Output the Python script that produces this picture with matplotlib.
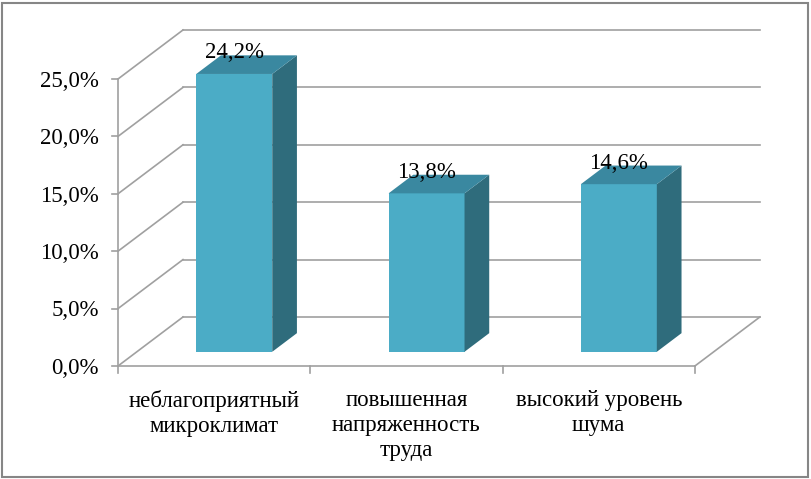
import matplotlib
matplotlib.use("Agg")
import matplotlib.pyplot as plt
from matplotlib.patches import Polygon, Rectangle

# данные
categories = ["неблагоприятный\nмикроклимат", "повышенная\nнапряженность\nтруда", "высокий уровень\nшума"]
values = [24.2, 13.8, 14.6]
value_labels = ["24,2%", "13,8%", "14,6%"]
ticks = [0, 5, 10, 15, 20, 25]
tick_labels = ["0,0%", "5,0%", "10,0%", "15,0%", "20,0%", "25,0%"]

plt.rcParams['font.family'] = ['Liberation Serif', 'DejaVu Serif']
FS = 16.5

# псевдо-3D параметры (в единицах осей)
DX, DY = 0.338, 4.27          # полная глубина
F0, F1 = 0.29, 0.67           # передняя и задняя грань столбика
BL, BR = 0.309, 0.704         # положение столбика внутри категории
GRID = '#a0a0a0'
FRONT = '#4bacc6'
TOP = '#3a88a0'
SIDE = '#2f6c7c'

fig = plt.figure(figsize=(8.11, 4.79), dpi=100)
ax = fig.add_axes([0, 0, 1, 1])
ax.set_xlim(-118 / 192.3, (811 - 118) / 192.3)
ax.set_ylim(-(479 - 366) / 11.48, 366 / 11.48)
ax.axis('off')

n = len(categories)

# стенки и сетка
for v in ticks:
    ax.plot([DX, n + DX], [v + DY, v + DY], color=GRID, lw=1.2, zorder=1)
    ax.plot([0, DX], [v, v + DY], color=GRID, lw=1.2, zorder=1)
    ax.plot([-0.03, 0], [v, v], color=GRID, lw=1.2, zorder=1)
    ax.text(-0.1, v - 0.2, tick_labels[v // 5], ha='right', va='center', fontsize=FS)
ax.plot([0, 0], [0, ticks[-1]], color=GRID, lw=1.2, zorder=1)
ax.plot([0, n], [0, 0], color=GRID, lw=1.2, zorder=1)
ax.plot([n, n + DX], [0, DY], color=GRID, lw=1.2, zorder=1)
for i in range(n + 1):
    ax.plot([i, i], [0, -0.6], color=GRID, lw=1.2, zorder=1)

# столбики
ddx, ddy = (F1 - F0) * DX, (F1 - F0) * DY
for i, v in enumerate(values):
    x0 = i + BL + F0 * DX
    x1 = i + BR + F0 * DX
    y0 = F0 * DY
    y1 = v + F0 * DY
    ax.add_patch(Polygon([(x0, y0), (x1, y0), (x1, y1), (x0, y1)], closed=True, fc=FRONT, ec='none', zorder=4))
    ax.add_patch(Polygon([(x1, y0), (x1 + ddx, y0 + ddy), (x1 + ddx, y1 + ddy), (x1, y1)], closed=True, fc=SIDE, ec='none', zorder=4))
    ax.add_patch(Polygon([(x0, y1), (x1, y1), (x1 + ddx, y1 + ddy), (x0 + ddx, y1 + ddy)], closed=True, fc=TOP, ec='none', zorder=4))
    ax.text((x0 + x1) / 2, y1 + 1.35, value_labels[i], ha='center', va='baseline', fontsize=FS, zorder=5)

# подписи категорий
for i, c in enumerate(categories):
    ax.text(i + 0.5, -2.05, c, ha='center', va='top', fontsize=FS, linespacing=1.25)

# рамка
fig.patches.append(Rectangle((2 / 811, 2 / 479), 806 / 811, 474 / 479, transform=fig.transFigure,
                             fill=False, ec='#868686', lw=1.5))

fig.savefig("out.png", dpi=100)
